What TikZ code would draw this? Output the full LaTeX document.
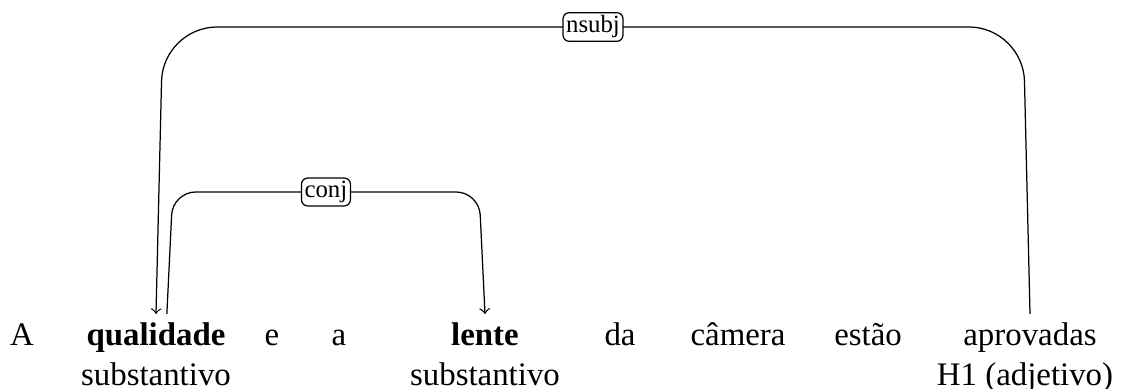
\documentclass[tikz,border=0pt]{standalone}
\usepackage{fontspec}
\setmainfont{Liberation Serif}
\usepackage{tikz}
\usetikzlibrary{positioning}

\tikzset{
	word/.style={anchor=base,inner sep=0.3333em,font=\fontsize{10.6}{12.7}\selectfont},
	dep/.style={->,thin},
	deplabel/.style={draw,fill=white,rounded corners=2pt,inner sep=1pt,font=\footnotesize}
}

\begin{document}
\begin{tikzpicture}[x=0.3225pt,y=-0.3225pt]
		\useasboundingbox (0,0) rectangle (1127,389);
		\begin{scope}
			% palavras
			\node(w1) [word] at (22,345)  {A};
			\node(w2) [word] at (156,345) {\textbf{qualidade}};
			\node(w3) [word] at (272,345) {e};
			\node(w4) [word] at (339,345) {a};
			\node(w5) [word] at (485,345) {\textbf{lente}};
			\node(w6) [word] at (620,345) {da};
			\node(w7) [word] at (738,345) {câmera};
			\node(w8) [word] at (868,345) {estão};
			\node(w9) [word] at (1030,345) {aprovadas};
			% etiquetas
			\node(t2) [word] at (156,385)  {substantivo};
			\node(t5) [word] at (485,385)  {substantivo};
			\node(t9) [word] at (1025,385) {H1 (adjetivo)};
			% alturas dos arcos
			\coordinate(top) at (0,27);
			\coordinate(bot) at (0,314);
			\coordinate(mid) at (0,192);
			% arcos
			\draw[dep,rounded corners=17.5pt]
				(w9.north |- bot) -- ([xshift=-2.2pt]w9.north |- top)
				-- node [deplabel,midway] {nsubj} ([xshift=2.2pt]w2.north |- top)
				-- (w2.north |- bot);
			\draw[dep,rounded corners=7.4pt]
				([xshift=3.5pt]w2.north |- bot) -- ([xshift=5.4pt]w2.north |- mid)
				-- node [deplabel,midway] {conj} ([xshift=-1.9pt]w5.north |- mid)
				-- (w5.north |- bot);
		\end{scope}
	\end{tikzpicture}
\end{document}
